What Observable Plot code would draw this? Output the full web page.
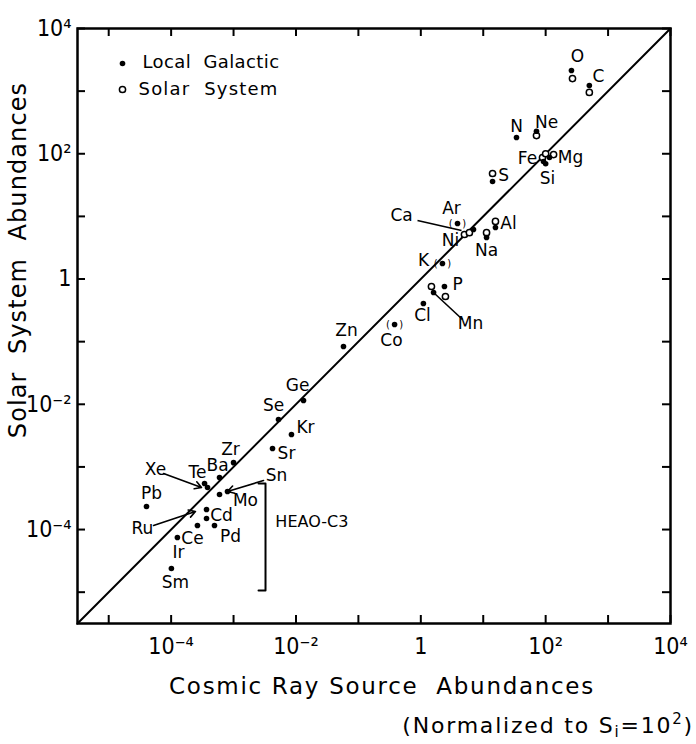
<!DOCTYPE html>
<html><head><meta charset="utf-8">
<script src="https://cdn.jsdelivr.net/npm/d3@7"></script>
<script src="https://cdn.jsdelivr.net/npm/@observablehq/plot@0.6"></script>
<style>
body{margin:0;background:#fff;}
#chart svg{display:block}
#caption{font-family:"DejaVu Sans",sans-serif;font-size:22px;text-align:right;padding-right:2px;letter-spacing:1.8px;line-height:28px;height:39px;color:#000}
#caption sub{font-size:15px;vertical-align:-4px}
#caption sup{font-size:15px;vertical-align:9px}
</style></head><body><div id="chart"></div><div id="caption">(Normalized to S<sub>i</sub>=10<sup>2</sup>)</div>
<script>
// ---- data (abundances, normalized to Si = 100) ----
const localNames = ["O","C","N","Ne","Fe","Si","Mg","S","Ar","Ni","Al","Na","K","P","Mn","Cl","Co","Zn","Ge","Se","Kr","Sr","Zr","Ba","Te","Xe","Sn","Mo","Ru","Cd","Pd","Ce","Ir","Sm","Pb"];
const localCR = [259,501,34.1,71.3,92.3,100,115,14.1,3.87,6.98,15.7,11.3,2.22,2.39,1.60,1.10,0.380,0.0577,0.0132,0.00525,0.00847,0.00421,0.00100,0.000596,0.000383,0.000343,0.000800,0.000596,0.000369,0.000369,0.000495,0.000264,0.000126,0.000101,0.0000403];
const localSS = [2140,1230,182,229,75.2,69.2,87,36.1,7.71,6.17,6.65,4.60,1.77,0.760,0.610,0.406,0.188,0.0837,0.0115,0.00571,0.00329,0.00197,0.00117,0.000678,0.000469,0.000543,0.000405,0.000363,0.000209,0.000150,0.000116,0.000116,0.0000746,0.0000239,0.000233];

const solarNames = ["O","C","Ne","Fe","Si","Mg","S","Ca","Ni","Al","Na","P","Mn"];
const solarCR = [269,501,71.3,89,100,134,14.1,5.0,6.0,15.7,11.3,2.48,1.48];
const solarSS = [1585,955,195,87,100,97,48.4,5.14,5.5,8.3,5.5,0.526,0.76];

// elements whose point is drawn with range brackets
const bracketNames = ["Ar","K","Co"];

// label anchors (log10 of abundance)
const labelNames = ["O","C","N","Ne","Fe","Mg","Si","S","Ca","Ar","Ni","Al","Na","K","P","Cl","Mn","Co","Zn","Ge","Se","Kr","Sr","Zr","Ba","Te","Xe","Sn","Pb","Mo","Cd","Ru","Pd","Ce","Ir","Sm"];
const labelLogX = [2.51,2.847,1.533,2.014,1.709,2.398,2.03,1.325,-0.309,0.492,0.476,1.405,1.052,0.043,0.588,0.027,0.796,-0.47,-1.19,-1.975,-2.36,-1.847,-2.152,-3.049,-3.257,-3.578,-4.25,-2.312,-4.314,-2.809,-3.193,-4.459,-3.049,-3.658,-3.882,-3.93];
const labelLogY = [3.553,3.234,2.435,2.499,1.924,1.94,1.605,1.653,1.014,1.13,0.615,0.886,0.455,0.296,-0.088,-0.583,-0.71,-0.982,-0.822,-1.70,-2.02,-2.371,-2.786,-2.722,-2.977,-3.089,-3.041,-3.137,-3.425,-3.536,-3.776,-3.983,-4.111,-4.143,-4.367,-4.846];

// leader lines (log10 coordinates)
const leaderNames = ["Ca","Mn","Xe","Sn","Ru"];
const leaderX1 = [-0.053,0.203,-4.122,-2.520,-4.282];
const leaderY1 = [0.934,-0.215,-3.105,-3.217,-3.935];
const leaderX2 = [0.652,0.668,-3.513,-3.097,-3.610];
const leaderY2 = [0.775,-0.646,-3.329,-3.393,-3.712];
const leaderArrow = [false,false,true,true,true];

// HEAO-C3 bracket (log10 coordinates)
const heaoLogX = [-2.60,-2.488,-2.488,-2.60];
const heaoLogY = [-3.265,-3.265,-4.973,-4.973];
const heaoLabel = {text:"HEAO-C3", lx:-2.33, ly:-3.872};

const axisTicks = [1e-5,1e-4,1e-3,1e-2,1e-1,1,1e1,1e2,1e3,1e4];
const axisLabels = [1e-4,1e-2,1,1e2,1e4];
const domain = [10 ** -5.5, 1e4];

// ---- build ----
const local = localNames.map((n,i)=>({name:n, x:localCR[i], y:localSS[i]}));
const solar = solarNames.map((n,i)=>({name:n, x:solarCR[i], y:solarSS[i]}));
const bracketed = local.filter(d=>bracketNames.includes(d.name));
const labels = labelNames.map((n,i)=>({name:n, x:10**labelLogX[i], y:10**labelLogY[i]}));
const leaders = leaderNames.map((n,i)=>({name:n, x1:10**leaderX1[i], y1:10**leaderY1[i], x2:10**leaderX2[i], y2:10**leaderY2[i], arrow:leaderArrow[i]}));
const heao = heaoLogX.map((v,i)=>({x:10**v, y:10**heaoLogY[i]}));

const W = 696, H = 705, mL = 77, mR = 26, mT = 28, mB = H - 623;
const fw = W - mL - mR, fh = H - mT - mB, tick = 8;
const supMap = {"-":"⁻","0":"⁰","1":"¹","2":"²","3":"³","4":"⁴","5":"⁵"};
const fmt = d => { const e = Math.round(Math.log10(d)); return e === 0 ? "1" : "10" + String(e).split("").map(c=>supMap[c]).join(""); };
const tickFont = "DejaVu Sans Condensed, DejaVu Sans, sans-serif";

const chart = Plot.plot({
  width: W, height: H, marginLeft: mL, marginRight: mR, marginTop: mT, marginBottom: mB,
  style: {fontFamily: "DejaVu Sans, sans-serif", fontSize: "17px", color: "#000", background: "#fff", overflow: "visible"},
  x: {type: "log", domain},
  y: {type: "log", domain},
  marks: [
    Plot.axisX(axisLabels, {tickSize: 0, tickPadding: 14, tickFormat: fmt, fontSize: 23, fontFamily: tickFont}),
    Plot.axisY(axisLabels, {tickSize: 0, tickPadding: 6, tickFormat: fmt, fontSize: 23, fontFamily: tickFont}),
    Plot.tickX(axisTicks, {x: d=>d, insetTop: fh - tick, strokeWidth: 2}),
    Plot.tickX(axisTicks, {x: d=>d, insetBottom: fh - tick, strokeWidth: 2}),
    Plot.tickY(axisTicks, {y: d=>d, insetRight: fw - tick, strokeWidth: 2}),
    Plot.tickY(axisTicks, {y: d=>d, insetLeft: fw - tick, strokeWidth: 2}),
    Plot.frame({strokeWidth: 2.5}),
    Plot.line(domain, {x: d=>d, y: d=>d, strokeWidth: 2}),
    Plot.line(heao, {x:"x", y:"y", strokeWidth: 2}),
    Plot.text([heaoLabel], {x: d=>10**d.lx, y: d=>10**d.ly, text:"text", textAnchor:"start", fontSize: 16}),
    Plot.link(leaders.filter(d=>!d.arrow), {x1:"x1", y1:"y1", x2:"x2", y2:"y2", strokeWidth: 1.6}),
    Plot.arrow(leaders.filter(d=>d.arrow), {x1:"x1", y1:"y1", x2:"x2", y2:"y2", strokeWidth: 1.6, headLength: 7}),
    Plot.text(bracketed, {x:"x", y:"y", text: ()=>"(   )", fontSize: 10, fill: "#000"}),
    Plot.dot(solar, {x:"x", y:"y", r: 3.1, stroke: "#000", strokeWidth: 1.5, fill: "#fff"}),
    Plot.dot(local, {x:"x", y:"y", r: 2.8, fill: "#000"}),
    Plot.text(labels, {x:"x", y:"y", text:"name", fontSize: 17}),
    // legend
    Plot.dot([0], {frameAnchor:"top-left", dx: 45, dy: 35, r: 2.8, fill:"#000"}),
    Plot.dot([0], {frameAnchor:"top-left", dx: 45, dy: 61, r: 3.1, stroke:"#000", strokeWidth:1.5, fill:"#fff"}),
    Plot.text(["Local  Galactic"], {frameAnchor:"top-left", dx: 65, dy: 34, textAnchor:"start", lineAnchor:"middle", fontSize: 18}),
    Plot.text(["Solar  System"], {frameAnchor:"top-left", dx: 61, dy: 61, textAnchor:"start", lineAnchor:"middle", fontSize: 18}),
    // axis titles
    Plot.text(["Cosmic Ray Source  Abundances"], {frameAnchor:"bottom", dx: 8, dy: 63, textAnchor:"middle", lineAnchor:"middle", fontSize: 23}),
    Plot.text(["Solar  System  Abundances"], {frameAnchor:"left", dx: -59, dy: -66, rotate: -90, textAnchor:"middle", lineAnchor:"middle", fontSize: 24})
  ]
});
// letter spacing for the wide-set titles
const spacing = {"Local  Galactic": 0.4, "Solar  System": 1.2, "Cosmic Ray Source  Abundances": 1.7, "Solar  System  Abundances": 1.1};
d3.select(chart).selectAll("text").each(function(){
  const t = this.textContent;
  if (t in spacing) this.style.letterSpacing = spacing[t] + "px";
});
document.getElementById("chart").appendChild(chart);
</script></body></html>
